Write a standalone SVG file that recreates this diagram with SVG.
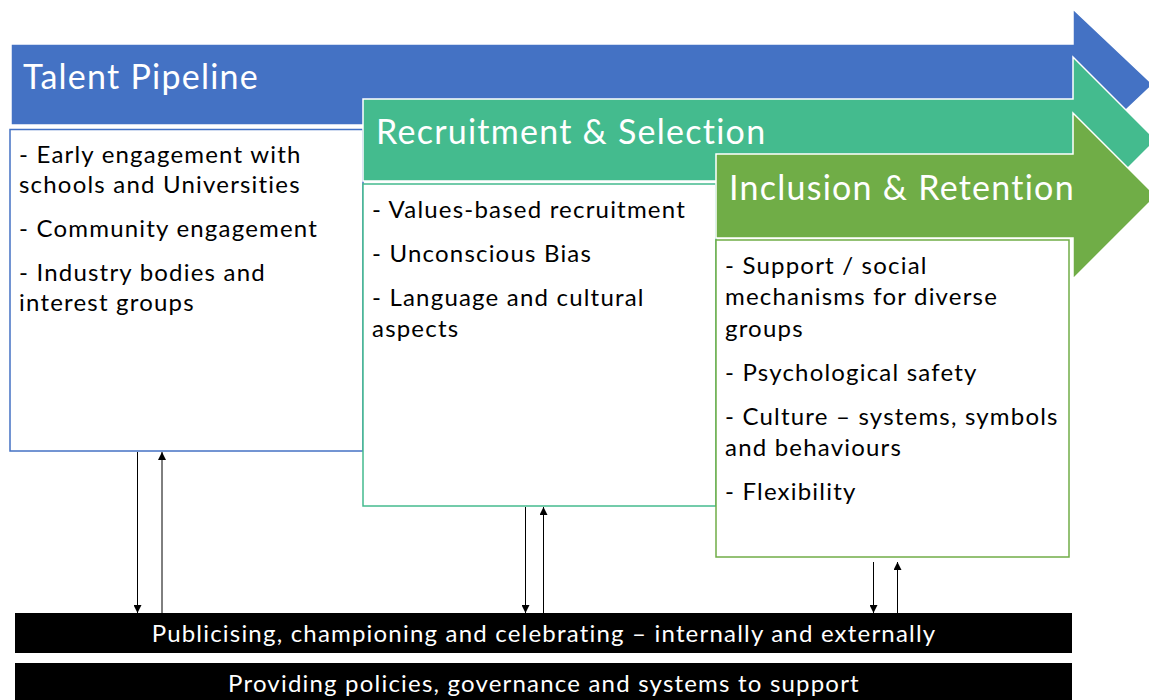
<svg xmlns="http://www.w3.org/2000/svg" width="1149" height="700" viewBox="0 0 1149 700">
<defs>
<marker id="ah" markerWidth="8" markerHeight="8" refX="8" refY="4" orient="auto" markerUnits="userSpaceOnUse">
<path d="M0,0 L8,4 L0,8 Z" fill="#000"/>
</marker>
<style>
.title{font-family:Lato,"Open Sans",sans-serif;font-size:34px;letter-spacing:1.25px;fill:#fff}
.body{font-family:Lato,"Open Sans",sans-serif;font-size:24px;letter-spacing:1.2px;fill:#000}
.bar{font-family:Lato,"Open Sans",sans-serif;font-size:24px;letter-spacing:1.2px;fill:#fff;text-anchor:middle}
.box{fill:#fff;stroke-width:1.5}
.arrow{stroke:#fff;stroke-width:1.5}
.conn{stroke:#000;stroke-width:1;fill:none;marker-end:url(#ah)}
</style>
</defs>
<rect width="1149" height="700" fill="#fff"/>
<g id="talent-pipeline">
<polygon class="arrow" fill="#4472C4" points="11,44 1073,44 1073,9 1153,84.5 1073,160 1073,125 11,125"/>
<text class="title" x="23" y="89">Talent Pipeline</text>
<rect class="box" stroke="#4472C4" x="10" y="129.5" width="353" height="321.5"/>
<text class="body" x="19" y="163">- Early engagement with</text>
<text class="body" x="19" y="193">schools and Universities</text>
<text class="body" x="19" y="237">- Community engagement</text>
<text class="body" x="19" y="281">- Industry bodies and</text>
<text class="body" x="19" y="311">interest groups</text>
</g>
<g id="recruitment-selection">
<polygon class="arrow" fill="#44BB8E" points="363,99 1073,99 1073,57 1156,140 1073,223 1073,181 363,181"/>
<text class="title" x="376" y="144">Recruitment &amp; Selection</text>
<rect class="box" stroke="#44BB8E" x="363" y="184" width="353" height="322"/>
<text class="body" x="372" y="218">- Values-based recruitment</text>
<text class="body" x="372" y="262">- Unconscious Bias</text>
<text class="body" x="372" y="306">- Language and cultural</text>
<text class="body" x="372" y="337">aspects</text>
</g>
<g id="inclusion-retention">
<polygon class="arrow" fill="#70AD47" points="716,154 1073,154 1073,113 1156,196 1073,279 1073,238 716,238"/>
<text class="title" x="729" y="200">Inclusion &amp; Retention</text>
<rect class="box" stroke="#70AD47" x="716" y="240" width="353" height="317"/>
<text class="body" x="725" y="274">- Support / social</text>
<text class="body" x="725" y="305">mechanisms for diverse</text>
<text class="body" x="725" y="337">groups</text>
<text class="body" x="725" y="381">- Psychological safety</text>
<text class="body" x="725" y="425">- Culture – systems, symbols</text>
<text class="body" x="725" y="456">and behaviours</text>
<text class="body" x="725" y="500">- Flexibility</text>
</g>
<g id="publicising">
<rect x="15" y="613" width="1057" height="40" fill="#000"/>
<text class="bar" x="544" y="642">Publicising, championing and celebrating – internally and externally</text>
</g>
<g id="policies">
<rect x="15" y="663" width="1057" height="40" fill="#000"/>
<text class="bar" x="544" y="692">Providing policies, governance and systems to support</text>
</g>
<g id="connectors">
<line class="conn" x1="137.5" y1="452" x2="137.5" y2="613"/>
<line class="conn" x1="162" y1="613" x2="162" y2="452"/>
<line class="conn" x1="525.5" y1="507" x2="525.5" y2="613"/>
<line class="conn" x1="543.5" y1="613" x2="543.5" y2="507"/>
<line class="conn" x1="873.5" y1="562" x2="873.5" y2="613"/>
<line class="conn" x1="897.5" y1="613" x2="897.5" y2="562"/>
</g>
</svg>
